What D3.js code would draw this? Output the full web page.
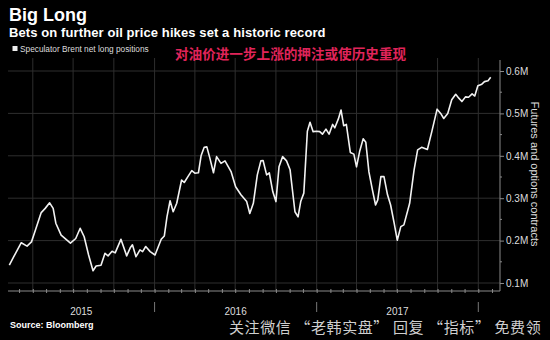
<!DOCTYPE html>
<html><head><meta charset="utf-8">
<script src="https://cdn.jsdelivr.net/npm/d3@7"></script>
<style>body{margin:0;background:#000;} svg{display:block}</style>
</head><body>
<svg id="c" width="550" height="340"></svg>
<script>
// Weekly-ish readings of speculator Brent net long positions (thousand contracts)
const dates = [
"2015-02-07","2015-02-17","2015-03-06","2015-03-19","2015-03-29","2015-04-07","2015-04-20","2015-04-29","2015-05-09","2015-05-17",
"2015-05-23","2015-06-04","2015-06-25","2015-07-07","2015-07-17","2015-07-26","2015-08-05","2015-08-15","2015-08-22","2015-09-02",
"2015-09-11","2015-09-18","2015-09-27","2015-10-04","2015-10-17","2015-10-30","2015-11-07","2015-11-12","2015-11-20","2015-11-29",
"2015-12-05","2015-12-12","2015-12-22","2016-01-02","2016-01-16","2016-01-23","2016-01-29","2016-02-05","2016-02-12","2016-02-20",
"2016-03-02","2016-03-08","2016-03-17","2016-03-25","2016-04-01","2016-04-09","2016-04-15","2016-04-22","2016-04-28","2016-05-05",
"2016-05-13","2016-05-20","2016-05-30","2016-06-08","2016-06-22","2016-07-02","2016-07-14","2016-07-27","2016-08-03","2016-08-11",
"2016-08-20","2016-08-28","2016-09-02","2016-09-10","2016-09-16","2016-09-24","2016-10-01","2016-10-08","2016-10-16","2016-10-25",
"2016-11-02","2016-11-13","2016-11-20","2016-11-26","2016-12-03","2016-12-11","2016-12-17","2016-12-24","2017-01-01","2017-01-08",
"2017-01-14","2017-01-22","2017-01-29","2017-02-06","2017-02-11","2017-02-19","2017-02-25","2017-03-03","2017-03-09","2017-03-18",
"2017-03-26","2017-04-01","2017-04-08","2017-04-16","2017-04-22","2017-04-29","2017-05-07","2017-05-14","2017-05-19","2017-05-26",
"2017-06-02","2017-06-10","2017-06-17","2017-06-25","2017-07-02","2017-07-10","2017-07-17","2017-07-30","2017-08-09","2017-08-17",
"2017-08-26","2017-09-08","2017-09-18","2017-09-30","2017-10-08","2017-10-15","2017-10-24","2017-11-02","2017-11-11","2017-11-18",
"2017-11-25","2017-12-03","2017-12-10","2017-12-18","2017-12-24","2017-12-31","2018-01-09","2018-01-15","2018-01-23","2018-01-29"
];
const values = [
142,162,195,187,197,225,266,276,289,276,
241,213,194,205,229,209,166,129,140,142,
170,164,175,171,203,164,183,190,162,178,
174,186,174,166,203,211,256,294,268,288,
343,337,352,365,359,360,400,420,421,394,
360,398,382,388,362,327,308,292,264,288,
355,388,389,355,360,315,292,374,398,388,
367,268,256,292,312,458,479,457,458,457,
451,463,451,474,466,487,508,471,474,408,
404,374,410,440,432,362,319,284,296,351,
351,308,284,241,201,233,237,288,367,414,
420,415,457,510,500,488,500,532,545,536,
528,539,538,546,541,565,569,575,577,585
];
const yTickValues = [100,200,300,400,500,600];
const yTickLabels = ["0.1M","0.2M","0.3M","0.4M","0.5M","0.6M"];
const yearLabels = ["2015","2016","2017"];
const yearStarts = ["2015-01-01","2016-01-01","2017-01-01","2018-01-01"];

const parse = d3.timeParse("%Y-%m-%d");
const data = dates.map((d,i)=>({date:parse(d), v:values[i]}));

const svg = d3.select("#c");
const W = 550, H = 340;
svg.append("rect").attr("width",W).attr("height",H).attr("fill","#000");

const pL = 8, pR = 500, pT = 58, pB = 291;
const x = d3.scaleTime().domain([parse("2015-02-04"), parse("2018-02-19")]).range([pL, pR]);
const y = d3.scaleLinear().domain([100,600]).range([283,71]);

// grid
const g = svg.append("g");
const quarters = d3.timeMonth.every(3).range(x.domain()[0], x.domain()[1]);
g.selectAll("line.vg").data(quarters).join("line")
  .attr("x1",d=>x(d)).attr("x2",d=>x(d)).attr("y1",pT).attr("y2",pB)
  .attr("stroke","#2e2e2e").attr("stroke-width",1);
g.selectAll("line.hg").data(yTickValues).join("line")
  .attr("x1",pL).attr("x2",pR).attr("y1",d=>y(d)).attr("y2",d=>y(d))
  .attr("stroke","#2e2e2e").attr("stroke-width",1);

// bottom axis
const xAxis = d3.axisBottom(x).ticks(d3.timeMonth.every(1)).tickSize(2).tickFormat("");
const xa = svg.append("g").attr("transform",`translate(0,${pB})`).call(xAxis);
xa.select(".domain").attr("stroke","#8a8a8a").attr("d",`M${pL},0H${pR}`);
xa.selectAll(".tick line").attr("stroke","#8a8a8a").attr("y1",-2).attr("y2",2);

// year separators and labels
const ys = yearStarts.map(parse);
svg.selectAll("line.ysep").data(ys.slice(1)).join("line")
  .attr("x1",d=>x(d)).attr("x2",d=>x(d)).attr("y1",302).attr("y2",312)
  .attr("stroke","#777").attr("stroke-width",1);
svg.selectAll("text.year").data(yearLabels).join("text")
  .attr("x",(d,i)=>(Math.max(x(ys[i]),pL)+Math.min(x(ys[i+1]),pR))/2)
  .attr("y",315).attr("text-anchor","middle")
  .attr("font-family","Liberation Sans, Arial, sans-serif").attr("font-size",10)
  .attr("fill","#ddd").text(d=>d);

// right axis
const yAxis = d3.axisRight(y).tickValues(yTickValues).tickSize(4).tickPadding(2)
  .tickFormat((d,i)=>yTickLabels[i]);
const ya = svg.append("g").attr("transform",`translate(${pR},0)`).call(yAxis);
ya.select(".domain").attr("stroke","#8a8a8a").attr("d",`M0,${pT+2}V${pB}`);
ya.selectAll(".tick line").attr("stroke","#8a8a8a");
ya.selectAll(".tick text").attr("fill","#ddd").attr("font-size",10)
  .attr("font-family","Liberation Sans, Arial, sans-serif");
const minor = d3.range(150,600,100);
ya.selectAll("line.minor").data(minor).join("line")
  .attr("x1",0).attr("x2",2).attr("y1",d=>y(d)).attr("y2",d=>y(d)).attr("stroke","#8a8a8a");

svg.append("text").attr("transform","translate(531,174) rotate(90)")
  .attr("text-anchor","middle").attr("font-family","Liberation Sans, Arial, sans-serif")
  .attr("font-size",11).attr("fill","#ddd").text("Futures and options contracts");

// line
const line = d3.line().x(d=>x(d.date)).y(d=>y(d.v));
svg.append("path").datum(data).attr("d",line).attr("fill","none")
  .attr("stroke","#f2f2f2").attr("stroke-width",1.6).attr("stroke-linejoin","round");

// titles
svg.append("text").attr("x",9).attr("y",21).attr("font-family","Liberation Sans, Arial, sans-serif")
  .attr("font-weight","bold").attr("font-size",18).attr("fill","#fff").text("Big Long");
svg.append("text").attr("x",9).attr("y",37).attr("font-family","Liberation Sans, Arial, sans-serif")
  .attr("font-weight","bold").attr("font-size",13).attr("letter-spacing",0.1).attr("fill","#fff")
  .text("Bets on further oil price hikes set a historic record");
svg.append("rect").attr("x",12.5).attr("y",46).attr("width",5).attr("height",5).attr("fill","#eee");
svg.append("text").attr("x",20).attr("y",51.5).attr("font-family","Liberation Sans, Arial, sans-serif")
  .attr("font-size",8.3).attr("fill","#ddd").text("Speculator Brent net long positions");
svg.append("text").attr("x",175).attr("y",59).attr("font-family","Noto Sans CJK SC, sans-serif")
  .attr("font-weight","bold").attr("font-size",13.6).attr("fill","#e0245a")
  .text("对油价进一步上涨的押注或使历史重现");

svg.append("text").attr("x",10).attr("y",328).attr("font-family","Liberation Sans, Arial, sans-serif")
  .attr("font-weight","bold").attr("font-size",9).attr("fill","#fff").text("Source: Bloomberg");
svg.append("text").attr("x",229).attr("y",333).attr("font-family","Noto Sans CJK SC, sans-serif")
  .attr("font-size",15).attr("letter-spacing",0.6).attr("fill","#cfcfcf")
  .text("关注微信 “老韩实盘” 回复 “指标” 免费领");
</script>
</body></html>
